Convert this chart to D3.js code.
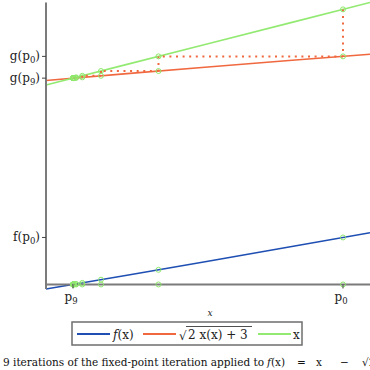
<!DOCTYPE html>
<html>
<head>
<meta charset="utf-8">
<script src="https://cdn.jsdelivr.net/npm/d3@7"></script>
<style>
  body { margin: 0; background: #fff; overflow: hidden; }
  svg { display: block; font-family: "DejaVu Serif", serif; }
</style>
</head>
<body>
<svg id="chart" width="370" height="370"></svg>
<script>
// iterates p0..p9 and g(p_n) at each of them
const iterates = [4, 3.3166, 3.1037, 3.0344, 3.0115, 3.0038, 3.0013, 3.0004, 3.0001, 3.00005];
const gAtIterates = [3.3166, 3.1037, 3.0344, 3.0115, 3.0038, 3.0013, 3.0004, 3.0001, 3.00005, 3.00002];

// sampled curves
const curveX = [2.9, 3.2, 3.5, 3.8, 4.1];
const curveG = [2.966, 3.066, 3.162, 3.256, 3.347];
const curveF = [-0.066, 0.134, 0.338, 0.544, 0.753];

const seriesColors = ["#1f4fb3", "#f0683f", "#93ea72"];

const svg = d3.select("#chart");
const margin = { left: 46, right: 0, top: 2.5, bottom: 81 };
const width = 370, height = 370;

const x = d3.scaleLinear().domain([2.9, 4.1]).range([margin.left, width - margin.right]);
const y = d3.scaleLinear().domain([-0.066, 4.1]).range([height - margin.bottom, margin.top]);

const line = d3.line().x(d => x(d[0])).y(d => y(d[1]));
const axisColor = "#7b7b7b";
const markColor = "#8ee86c";

// curves
const curves = [
    d3.zip(curveX, curveF),
    d3.zip(curveX, curveG),
    d3.zip(curveX, curveX)
];
svg.selectAll("path.curve")
    .data(curves)
    .enter()
    .append("path")
    .attr("class", "curve")
    .attr("d", line)
    .attr("fill", "none")
    .attr("stroke", (d, i) => seriesColors[i])
    .attr("stroke-width", 1.6);

// cobweb
const web = [];
for (let i = 0; i < iterates.length - 1; i++) {
    web.push([[iterates[i], iterates[i]], [iterates[i], gAtIterates[i]]]);
    web.push([[iterates[i], gAtIterates[i]], [iterates[i + 1], gAtIterates[i]]]);
}
svg.selectAll("path.web")
    .data(web)
    .enter()
    .append("path")
    .attr("class", "web")
    .attr("d", line)
    .attr("stroke", seriesColors[1])
    .attr("stroke-width", 2)
    .attr("stroke-dasharray", "2,4.6");

// axes spines
svg.append("line")
    .attr("x1", x(2.9)).attr("x2", x(2.9))
    .attr("y1", y(4.1)).attr("y2", y(-0.066))
    .attr("stroke", axisColor).attr("stroke-width", 2);
svg.append("line")
    .attr("x1", x(2.9)).attr("x2", width)
    .attr("y1", y(0)).attr("y2", y(0))
    .attr("stroke", axisColor).attr("stroke-width", 2);

// markers
const marks = [];
iterates.forEach((p, i) => {
    marks.push([p, p]);
    marks.push([p, gAtIterates[i]]);
    marks.push([p, p - gAtIterates[i]]);
    marks.push([p, 0]);
});
svg.selectAll("circle.mark")
    .data(marks)
    .enter()
    .append("circle")
    .attr("class", "mark")
    .attr("cx", d => x(d[0]))
    .attr("cy", d => y(d[1]))
    .attr("r", 2.5)
    .attr("fill", "none")
    .attr("stroke", markColor)
    .attr("stroke-width", 1);

// ticks
function subLabel(sel, parts) {
    parts.forEach(pt => {
        const t = sel.append("tspan").text(pt.t);
        if (pt.sub) t.attr("font-size", 8.5).attr("dy", 3);
        if (pt.up) t.attr("dy", -3);
    });
}

const yTicks = [
    { v: gAtIterates[0], f: "g", n: "0" },
    { v: gAtIterates[9], f: "g", n: "9" },
    { v: iterates[0] - gAtIterates[0], f: "f", n: "0" }
];
yTicks.forEach(t => {
    svg.append("line")
        .attr("x1", x(2.9) - 4).attr("x2", x(2.9))
        .attr("y1", y(t.v)).attr("y2", y(t.v))
        .attr("stroke", "#444").attr("stroke-width", 1);
    const txt = svg.append("text")
        .attr("x", x(2.9) - 6)
        .attr("y", y(t.v) + 4)
        .attr("text-anchor", "end")
        .attr("font-size", 12)
        .attr("fill", "#222");
    subLabel(txt, [{ t: t.f + "(p" }, { t: t.n, sub: true }, { t: ")", up: true }]);
});

const xTicks = [
    { v: iterates[9], n: "9" },
    { v: iterates[0], n: "0" }
];
xTicks.forEach(t => {
    svg.append("line")
        .attr("x1", x(t.v)).attr("x2", x(t.v))
        .attr("y1", y(0)).attr("y2", y(0) + 4)
        .attr("stroke", "#444").attr("stroke-width", 1);
    const txt = svg.append("text")
        .attr("x", x(t.v) - 2)
        .attr("y", y(0) + 17)
        .attr("text-anchor", "middle")
        .attr("font-size", 12)
        .attr("fill", "#222");
    subLabel(txt, [{ t: "p" }, { t: t.n, sub: true }]);
});

// axis label
svg.append("text")
    .attr("x", 210).attr("y", 316)
    .attr("text-anchor", "middle")
    .attr("font-size", 9)
    .attr("font-style", "italic")
    .attr("fill", "#222")
    .text("x");

// legend
const legend = svg.append("g");
legend.append("rect")
    .attr("x", 72).attr("y", 322)
    .attr("width", 230).attr("height", 23)
    .attr("fill", "#fff")
    .attr("stroke", "#6e6e6e")
    .attr("stroke-width", 1.5);
const legX = [77, 143, 258];
legX.forEach((lx, i) => {
    legend.append("line")
        .attr("x1", lx).attr("x2", lx + 33)
        .attr("y1", 334).attr("y2", 334)
        .attr("stroke", seriesColors[i])
        .attr("stroke-width", 2);
});
legend.append("text")
    .attr("x", 113).attr("y", 338.5)
    .attr("font-size", 12).attr("fill", "#222")
    .call(s => {
        s.append("tspan").attr("font-style", "italic").text("f");
        s.append("tspan").text("(x)");
    });
legend.append("text")
    .attr("x", 179).attr("y", 340)
    .attr("font-size", 12).attr("fill", "#222")
    .text("√");
legend.append("line")
    .attr("x1", 186).attr("x2", 252)
    .attr("y1", 326.5).attr("y2", 326.5)
    .attr("stroke", "#222").attr("stroke-width", 0.8);
legend.append("text")
    .attr("x", 188).attr("y", 339)
    .attr("font-size", 12).attr("fill", "#222")
    .text("2 x(x) + 3");
legend.append("text")
    .attr("x", 293).attr("y", 338.5)
    .attr("font-size", 12).attr("fill", "#222")
    .text("x");

// title (runs past the right edge, as in the original)
const title = svg.append("text")
    .attr("x", 3).attr("y", 366)
    .attr("font-size", 10.5).attr("fill", "#111");
title.append("tspan").text("9 iterations of the fixed-point iteration applied to");
title.append("tspan").attr("x", 267).attr("font-style", "italic").text("f");
title.append("tspan").text("(x)");
title.append("tspan").attr("x", 297).text("=");
title.append("tspan").attr("x", 316).text("x");
title.append("tspan").attr("x", 340).text("−");
title.append("tspan").attr("x", 362).text("√2x + 3");
</script>
</body>
</html>
